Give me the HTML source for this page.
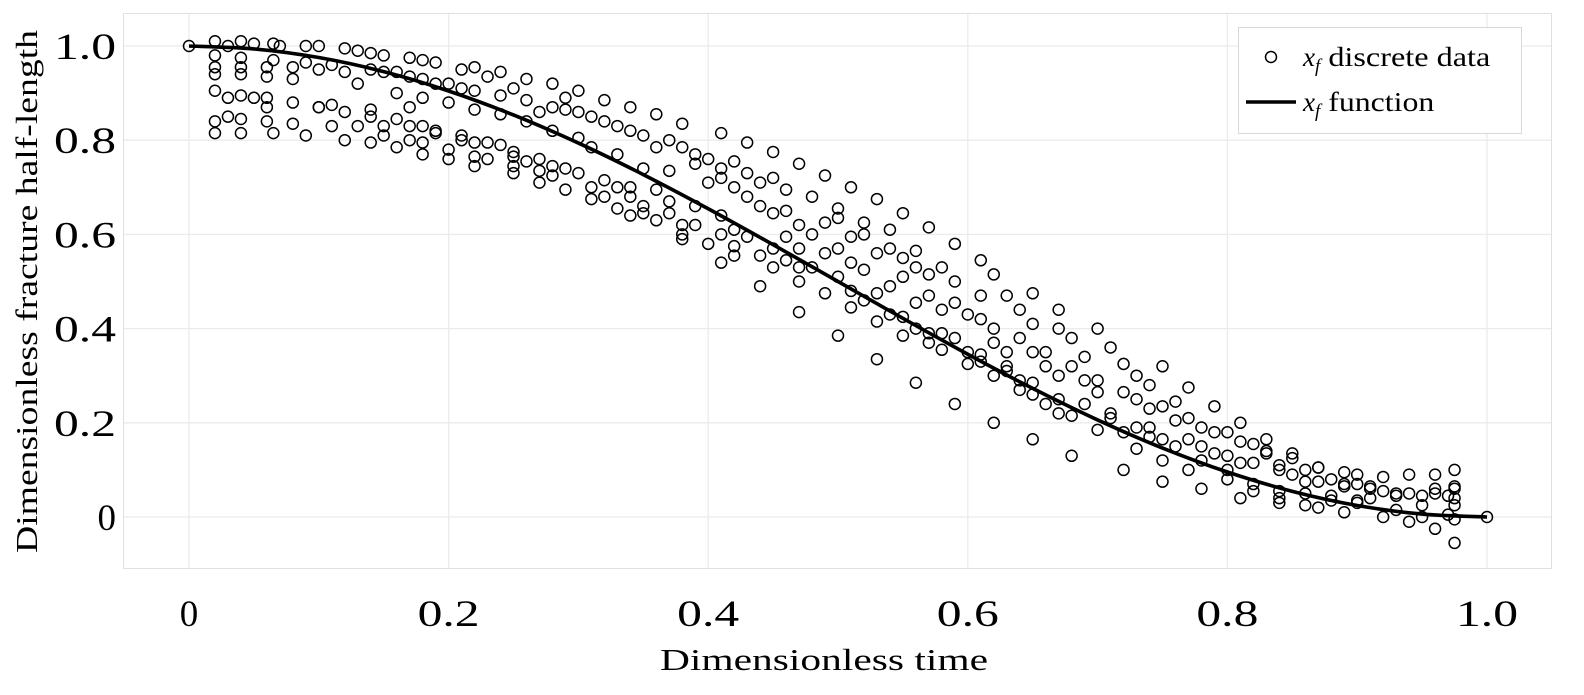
<!DOCTYPE html>
<html><head><meta charset="utf-8"><style>
html,body{margin:0;padding:0;background:#fff;}
svg{display:block;font-family:"Liberation Serif",serif;}
</style></head><body>
<svg id="chart" width="1584" height="695" viewBox="0 0 1584 695">
<rect x="123.5" y="13.5" width="1428" height="555" fill="#fff" stroke="#e0e0e0" stroke-width="1"/>
<g id="grid"></g>
<g id="ticks"></g>
<g id="points"></g>
<path id="fline" fill="none" stroke="#000" stroke-width="3.6"/>
<text x="660" y="670" font-size="31" textLength="328" lengthAdjust="spacingAndGlyphs">Dimensionless time</text>
<text transform="translate(37,553) rotate(-90)" font-size="31" textLength="523" lengthAdjust="spacingAndGlyphs">Dimensionless fracture half-length</text>
<g>
<rect x="1238.5" y="27.5" width="283" height="106" fill="#fff" stroke="#d8d8d8"/>
<circle cx="1271" cy="57" r="5.5" fill="none" stroke="#000" stroke-width="1.5"/>
<text x="1303" y="66" font-size="27"><tspan font-style="italic">x</tspan><tspan font-style="italic" font-size="19" dy="6">f</tspan><tspan dy="-6" textLength="170" lengthAdjust="spacingAndGlyphs"> discrete data</tspan></text>
<line x1="1246" y1="102" x2="1296" y2="102" stroke="#000" stroke-width="3.6"/>
<text x="1303" y="111" font-size="27"><tspan font-style="italic">x</tspan><tspan font-style="italic" font-size="19" dy="6">f</tspan><tspan dy="-6" textLength="114" lengthAdjust="spacingAndGlyphs"> function</tspan></text>
</g>
</svg>
<script>
const xTicks=[0,0.2,0.4,0.6,0.8,1.0];
const xTickLabels=["0","0.2","0.4","0.6","0.8","1.0"];
const yTicks=[0,0.2,0.4,0.6,0.8,1.0];
const yTickLabels=["0","0.2","0.4","0.6","0.8","1.0"];
const funcT=[0,0.05,0.1,0.15,0.2,0.25,0.3,0.35,0.4,0.45,0.5,0.55,0.6,0.65,0.7,0.75,0.8,0.85,0.9,0.95,1.0];
const funcY=[1,0.9938,0.9755,0.9455,0.9045,0.8536,0.7939,0.7270,0.6545,0.5782,0.5,0.4218,0.3455,0.2730,0.2061,0.1464,0.0955,0.0545,0.0245,0.0062,0];
const scatterT=[0,0.02,0.03,0.04,0.05,0.06,0.065,0.07,0.08,0.09,0.1,0.11,0.12,0.13,0.14,0.15,0.16,0.17,0.18,0.19,0.2,0.21,0.22,0.23,0.24,0.25,0.26,0.27,0.28,0.29,0.3,0.31,0.32,0.33,0.34,0.35,0.36,0.37,0.38,0.39,0.4,0.41,0.42,0.43,0.44,0.45,0.46,0.47,0.48,0.49,0.5,0.51,0.52,0.53,0.54,0.55,0.56,0.57,0.58,0.59,0.6,0.61,0.62,0.63,0.64,0.65,0.66,0.67,0.68,0.69,0.7,0.71,0.72,0.73,0.74,0.75,0.76,0.77,0.78,0.79,0.8,0.81,0.82,0.83,0.84,0.85,0.86,0.87,0.88,0.89,0.9,0.91,0.92,0.93,0.94,0.95,0.96,0.97,0.975,1.0];
const scatterY=[[1.0],[1.01,0.98,0.955,0.94,0.905,0.84,0.815],[1.0,0.89,0.85],[1.01,0.975,0.955,0.94,0.895,0.845,0.815],[1.005,0.89],[0.955,0.935,0.89,0.87,0.84],[1.005,0.97,0.815],[1.0],[0.955,0.93,0.88,0.835],[1.0,0.965,0.81],[1.0,0.95,0.87,0.87],[0.96,0.875,0.83],[0.995,0.945,0.86,0.80],[0.99,0.92,0.83],[0.985,0.95,0.865,0.85,0.795],[0.98,0.945,0.83,0.81],[0.945,0.9,0.845,0.785],[0.975,0.935,0.87,0.83,0.80],[0.97,0.93,0.89,0.83,0.795,0.77],[0.965,0.92,0.82,0.815],[0.88,0.92,0.76,0.78],[0.95,0.91,0.81,0.80],[0.955,0.905,0.865,0.795,0.765,0.745],[0.935,0.795,0.76],[0.945,0.895,0.855,0.79],[0.91,0.775,0.765,0.745,0.73],[0.93,0.885,0.84,0.755],[0.86,0.76,0.735,0.71],[0.92,0.87,0.82,0.745,0.725],[0.89,0.865,0.74,0.695],[0.905,0.86,0.805,0.73],[0.85,0.785,0.70,0.675],[0.885,0.84,0.715,0.68],[0.83,0.77,0.70,0.655],[0.87,0.82,0.70,0.68,0.64],[0.81,0.74,0.66,0.645],[0.855,0.785,0.695,0.63],[0.80,0.735,0.645,0.67],[0.835,0.785,0.62,0.60,0.59],[0.77,0.75,0.66,0.62],[0.76,0.71,0.58],[0.815,0.74,0.72,0.64,0.60,0.54],[0.755,0.70,0.61,0.575,0.555],[0.795,0.73,0.68,0.595],[0.71,0.66,0.555,0.49],[0.775,0.72,0.645,0.57,0.53],[0.695,0.65,0.595,0.545],[0.75,0.62,0.57,0.53,0.50,0.435],[0.68,0.60,0.53],[0.725,0.625,0.56,0.475],[0.655,0.635,0.57,0.51,0.385],[0.70,0.595,0.54,0.48,0.445],[0.625,0.60,0.525,0.46],[0.675,0.56,0.475,0.415,0.335],[0.61,0.57,0.49,0.43],[0.645,0.55,0.51,0.425,0.385],[0.565,0.53,0.455,0.40,0.285],[0.615,0.515,0.47,0.39,0.37],[0.53,0.44,0.39,0.355],[0.58,0.50,0.455,0.38,0.24],[0.43,0.35,0.325],[0.545,0.47,0.42,0.345,0.33],[0.515,0.40,0.37,0.30,0.20],[0.47,0.35,0.32,0.31],[0.44,0.38,0.29,0.27],[0.475,0.41,0.35,0.285,0.26,0.165],[0.35,0.32,0.24],[0.44,0.40,0.30,0.25,0.22],[0.38,0.32,0.215,0.13],[0.34,0.29,0.24],[0.40,0.29,0.265,0.185],[0.36,0.22,0.21],[0.325,0.265,0.18,0.10],[0.30,0.25,0.19,0.145],[0.28,0.23,0.19,0.17],[0.32,0.235,0.165,0.12,0.075],[0.245,0.205,0.15],[0.275,0.21,0.165,0.10],[0.19,0.15,0.12,0.06],[0.235,0.18,0.135],[0.18,0.13,0.10,0.08],[0.20,0.16,0.115,0.04],[0.155,0.115,0.07,0.055],[0.165,0.135,0.14],[0.11,0.10,0.055,0.04,0.03],[0.135,0.125,0.09],[0.10,0.075,0.05,0.025],[0.105,0.105,0.02,0.075],[0.08,0.045,0.035],[0.095,0.065,0.07,0.01],[0.09,0.07,0.035,0.03],[0.065,0.06,0.04],[0.085,0.055,0.0],[0.05,0.045,0.015],[0.09,0.05,-0.01],[0.045,0.025,0.0],[0.09,0.06,0.05,-0.025],[0.045,0.005],[0.1,0.06,0.065,0.04,0.025,-0.005,-0.055],[0.0]];

const NS="http://www.w3.org/2000/svg";
const X0=189,X1=1487,Y0=517,Y1=46;
function sx(t){return X0+(X1-X0)*t;}
function sy(v){return Y0-(Y0-Y1)*v;}
const grid=document.getElementById('grid'),ticks=document.getElementById('ticks'),pts=document.getElementById('points');
xTicks.forEach((t,i)=>{
  const l=document.createElementNS(NS,'line');
  l.setAttribute('x1',sx(t));l.setAttribute('x2',sx(t));l.setAttribute('y1',14);l.setAttribute('y2',568);
  l.setAttribute('stroke','#ebebeb');l.setAttribute('stroke-width','1.3');
  
  
  grid.appendChild(l);
  const tx=document.createElementNS(NS,'text');
  const lab=xTickLabels[i];
  tx.setAttribute('y',626);tx.setAttribute('font-size','37');
  if(lab.length>1){tx.setAttribute('x',sx(t)-31);tx.setAttribute('textLength','62');tx.setAttribute('lengthAdjust','spacingAndGlyphs');}
  else{tx.setAttribute('x',sx(t));tx.setAttribute('text-anchor','middle');}
  tx.textContent=lab;
  
  
  ticks.appendChild(tx);
});
yTicks.forEach((v,i)=>{
  const l=document.createElementNS(NS,'line');
  l.setAttribute('x1',124);l.setAttribute('x2',1551);l.setAttribute('y1',sy(v));l.setAttribute('y2',sy(v));
  l.setAttribute('stroke','#ebebeb');l.setAttribute('stroke-width','1.3');
  
  
  grid.appendChild(l);
  const tx=document.createElementNS(NS,'text');
  const lab=yTickLabels[i];
  tx.setAttribute('y',sy(v)+13);tx.setAttribute('font-size','37');
  if(lab.length>1){tx.setAttribute('x',54);tx.setAttribute('textLength','62');tx.setAttribute('lengthAdjust','spacingAndGlyphs');}
  else{tx.setAttribute('x',116);tx.setAttribute('text-anchor','end');}
  tx.textContent=lab;
  
  
  ticks.appendChild(tx);
});
scatterT.forEach((t,i)=>{
  scatterY[i].forEach(v=>{
    const c=document.createElementNS(NS,'circle');
    c.setAttribute('cx',sx(t));c.setAttribute('cy',sy(v));c.setAttribute('r','5.5');
    c.setAttribute('fill','none');c.setAttribute('stroke','#000');c.setAttribute('stroke-width','1.5');
    
    
    pts.appendChild(c);
  });
});
const P=funcT.map((t,i)=>[sx(t),sy(funcY[i])]);
let d='M'+P[0][0]+','+P[0][1];
for(let i=0;i<P.length-1;i++){
  const p0=P[Math.max(0,i-1)],p1=P[i],p2=P[i+1],p3=P[Math.min(P.length-1,i+2)];
  const c1=[p1[0]+(p2[0]-p0[0])/6,p1[1]+(p2[1]-p0[1])/6];
  const c2=[p2[0]-(p3[0]-p1[0])/6,p2[1]-(p3[1]-p1[1])/6];
  d+=' C'+c1[0]+','+c1[1]+' '+c2[0]+','+c2[1]+' '+p2[0]+','+p2[1];
}
document.getElementById('fline').setAttribute('d',d);
</script>
</body></html>
